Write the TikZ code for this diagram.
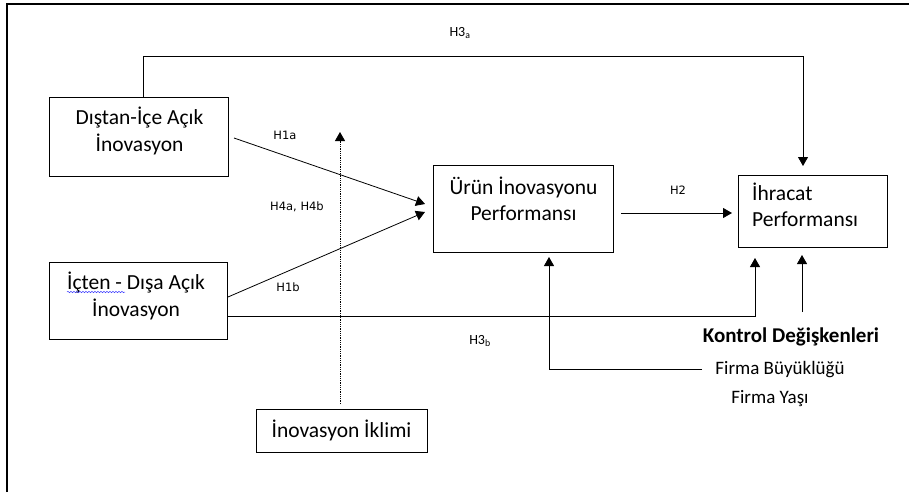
\documentclass[tikz,border=0pt]{standalone}
\usepackage{fontspec}
\setmainfont{Carlito}
\newfontfamily\lblfont{DejaVu Sans}
\usetikzlibrary{arrows.meta,decorations.pathmorphing}
\begin{document}
\begin{tikzpicture}[x=1pt,y=-1pt,
  box/.style={draw, line width=0.8pt, inner sep=0pt, anchor=north west},
  txt/.style={font=\fontsize{21.5}{26.5}\selectfont, align=center, inner sep=0pt},
  lbl/.style={font=\lblfont\fontsize{11.5}{13}\selectfont, inner sep=0pt},
  hlbl/.style={font=\fontsize{14}{16}\selectfont, inner sep=0pt},
  conn/.style={line width=0.8pt},
  tip/.style={-{Triangle[length=9pt,width=10pt]}},
  dotl/.style={line width=0.8pt, dash pattern=on 0.9pt off 0.9pt}
]
\useasboundingbox (0,0) rectangle (909,492);
\fill[white] (0,0) rectangle (909,492);
% frame
\draw[line width=1.6pt] (7,492) -- (7,4) -- (909,4);

% boxes
\node[box, minimum width=179pt, minimum height=79pt] (A) at (49,97) {};
\node[txt] (At) at (139.5,131) {Dıştan-İçe Açık\\İnovasyon};
\node[box, minimum width=178pt, minimum height=77pt] (B) at (49,262) {};
\node[txt] (Bt) at (136,296) {İçten - Dışa Açık\\İnovasyon};
\node[box, minimum width=180pt, minimum height=87pt] (C) at (433,165) {};
\node[txt] (Ct) at (523.5,199) {Ürün İnovasyonu\\Performansı};
\node[box, minimum width=149pt, minimum height=72pt] (D) at (738,175) {};
\node[txt, align=left, anchor=west] (Dt) at (752,205) {İhracat\\Performansı};
\node[box, minimum width=171pt, minimum height=43pt] (E) at (256,409) {};
\node[txt] (Et) at (341.5,430) {İnovasyon İklimi};

% spell-check underline
\draw[blue!75, line width=0.5pt, decorate, decoration={snake, amplitude=0.7pt, segment length=3pt}] (67,292) -- (125,292);

% labels
\node[hlbl] (H3a) at (460,33) {H3\textsubscript{a}};
\node[lbl] (H1a) at (285,135) {H1a};
\node[lbl] (H4) at (297,207) {H4a, H4b};
\node[lbl] (H1b) at (288,287) {H1b};
\node[lbl] (H2) at (678,190) {H2};
\node[hlbl] (H3b) at (480,341) {H3\textsubscript{b}};
\node[font=\bfseries\fontsize{21}{24}\selectfont, inner sep=0pt] (K) at (791,337) {Kontrol Değişkenleri};
\node[font=\fontsize{19}{22}\selectfont, inner sep=0pt] (FB) at (780,370) {Firma Büyüklüğü};
\node[font=\fontsize{19}{22}\selectfont, inner sep=0pt] (FY) at (770,399) {Firma Yaşı};

% connector end points
\coordinate (h1aS) at (234,138);
\coordinate (h1aE) at (425,204);
\coordinate (h1bS) at (228,297);
\coordinate (h1bE) at (425,212);
\coordinate (dS) at (340,404);
\coordinate (dE) at (340,132);
\coordinate (h3aS) at (143,97);
\coordinate (h3aC1) at (143,56);
\coordinate (h3aC2) at (803,56);
\coordinate (h3aE) at (803,166);
\coordinate (h3bS) at (228,316);
\coordinate (h3bC) at (755,316);
\coordinate (h3bE) at (755,258);
\coordinate (h2S) at (621,213);
\coordinate (h2E) at (732,213);
\coordinate (fbS) at (702,369);
\coordinate (fbC) at (549,369);
\coordinate (fbE) at (549,257);
\coordinate (kS) at (802,312);
\coordinate (kE) at (802,255);

% connectors
\draw[conn,tip] (h1aS) -- (h1aE);
\draw[conn,tip] (h1bS) -- (h1bE);
\draw[dotl,tip] (dS) -- (dE);
\draw[conn,tip] (h3aS) -- (h3aC1) -- (h3aC2) -- (h3aE);
\draw[conn,tip] (h3bS) -- (h3bC) -- (h3bE);
\draw[conn,tip] (h2S) -- (h2E);
\draw[conn,tip] (fbS) -- (fbC) -- (fbE);
\draw[conn,tip] (kS) -- (kE);
\end{tikzpicture}
\end{document}
